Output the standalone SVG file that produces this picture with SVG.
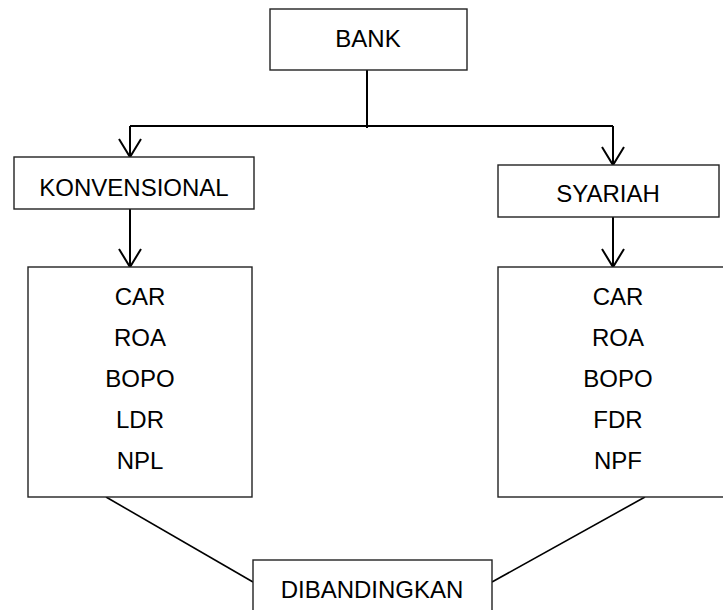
<svg xmlns="http://www.w3.org/2000/svg" width="723" height="610" viewBox="0 0 723 610">
<style>
.box{fill:#fff;stroke:#222;stroke-width:1.4}
.t{font-family:"Liberation Sans",Arial,sans-serif;font-size:24px;fill:#000;text-anchor:middle}
.c{fill:none;stroke:#000;stroke-width:2}
.d{fill:none;stroke:#000;stroke-width:1.6}
</style>
<rect width="723" height="610" fill="#fff"/>
<g id="connectors">
<path class="c" d="M367 70V128"/>
<path class="c" d="M130 126H613"/>
<path class="c" d="M130 126V156M119 139L130 157L141 139"/>
<path class="c" d="M613 126V164M602 147L613 165L624 147"/>
<path class="c" d="M130 209V266M119 249L130 267L141 249"/>
<path class="c" d="M613 217V266M602 249L613 267L624 249"/>
<path class="d" d="M106 497L253 582"/>
<path class="d" d="M645 497L492 582"/>
</g>
<g id="bank"><rect class="box" x="270" y="9" width="197" height="61"/><text class="t" x="368" y="47">BANK</text></g>
<g id="konvensional"><rect class="box" x="14" y="157" width="240" height="52"/><text class="t" x="134" y="196">KONVENSIONAL</text></g>
<g id="syariah"><rect class="box" x="498" y="165" width="221" height="52"/><text class="t" x="608" y="202">SYARIAH</text></g>
<g id="konv-list"><rect class="box" x="28" y="267" width="224" height="230"/>
<text class="t" x="140" y="305">CAR</text><text class="t" x="140" y="346">ROA</text><text class="t" x="140" y="387">BOPO</text><text class="t" x="140" y="428">LDR</text><text class="t" x="140" y="469">NPL</text></g>
<g id="syariah-list"><rect class="box" x="498" y="267" width="240" height="230"/>
<text class="t" x="618" y="305">CAR</text><text class="t" x="618" y="346">ROA</text><text class="t" x="618" y="387">BOPO</text><text class="t" x="618" y="428">FDR</text><text class="t" x="618" y="469">NPF</text></g>
<g id="dibandingkan"><rect class="box" x="253" y="560" width="239" height="60"/><text class="t" x="372" y="598">DIBANDINGKAN</text></g>
</svg>
